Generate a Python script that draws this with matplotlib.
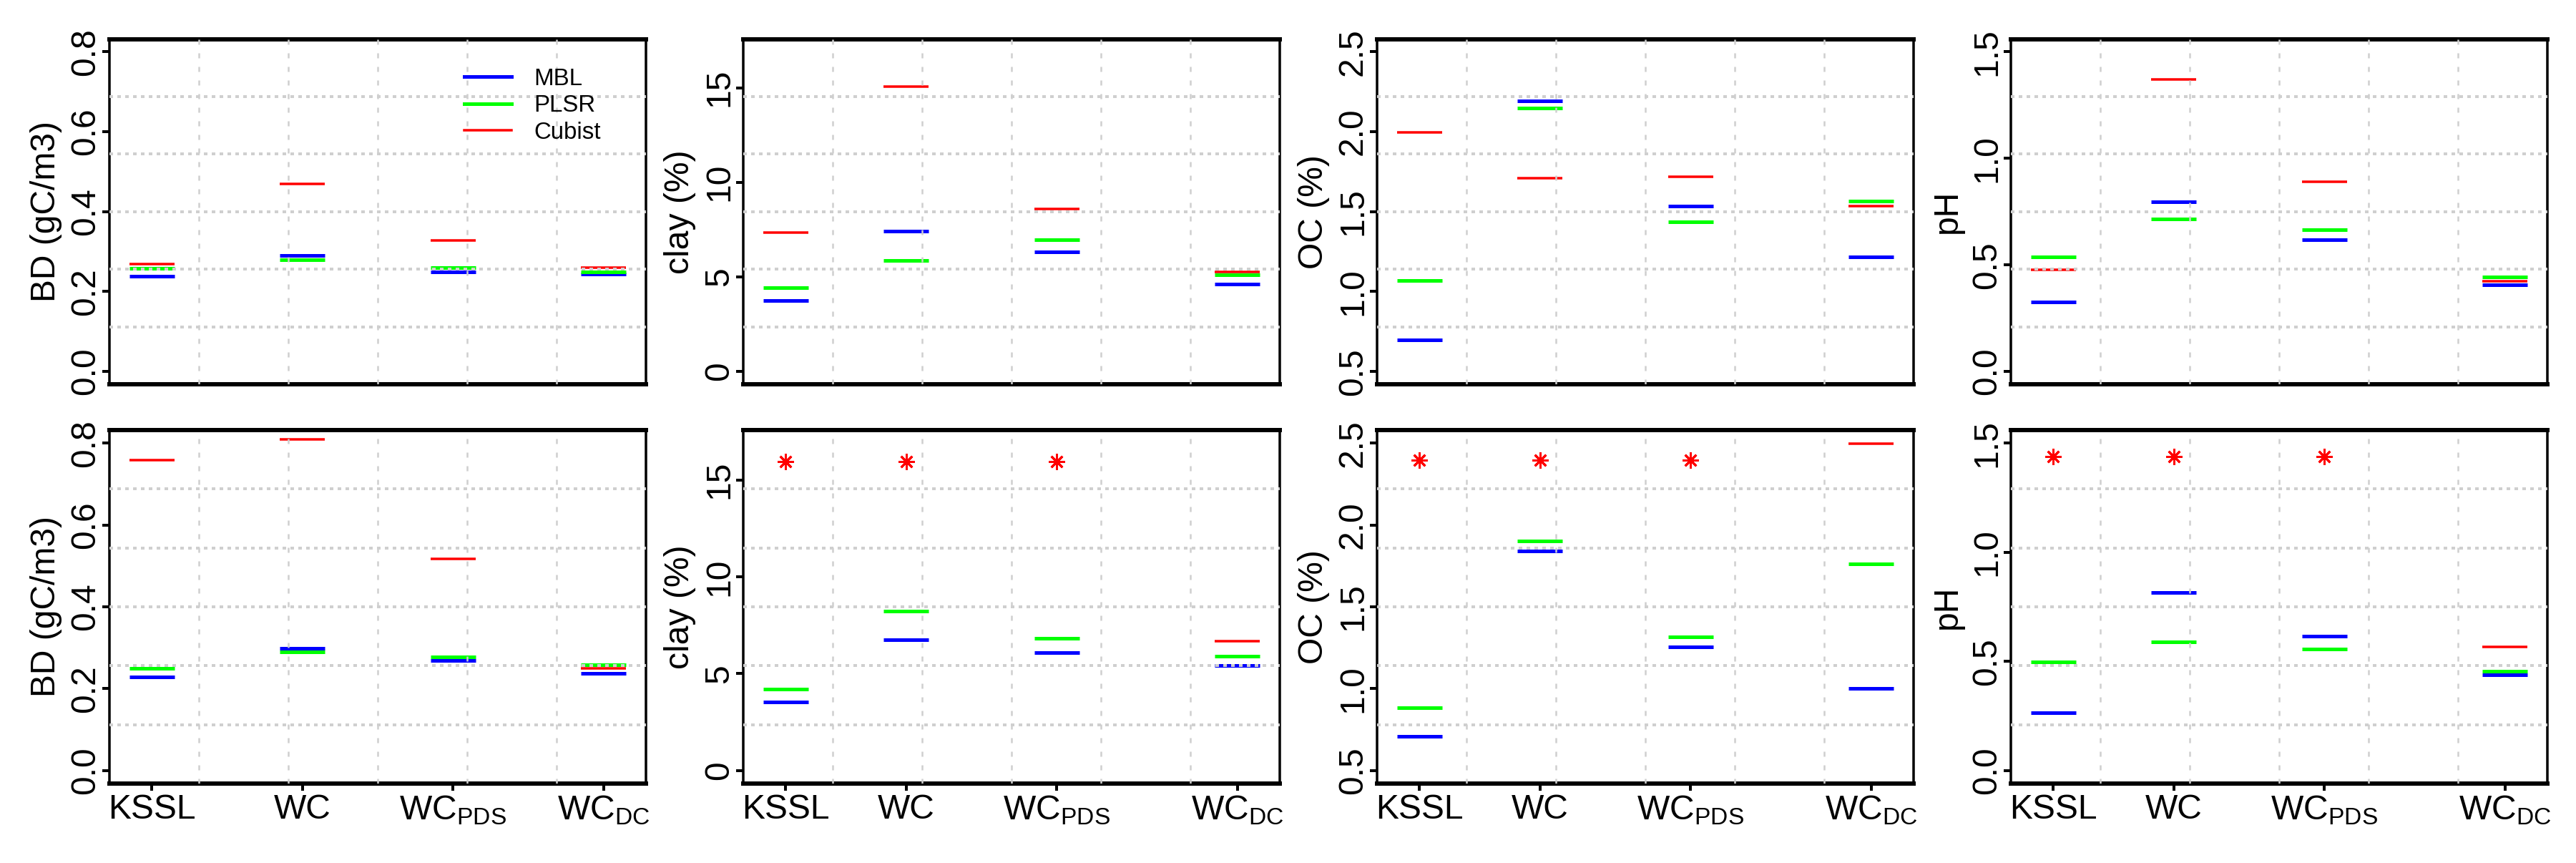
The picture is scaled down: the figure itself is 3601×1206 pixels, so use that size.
import numpy as np
import matplotlib
matplotlib.use('Agg')
import matplotlib.pyplot as plt

plt.rcParams['font.family'] = ['Liberation Sans', 'DejaVu Sans']
plt.rcParams['lines.scale_dashes'] = False

# x positions and labels
groups = ['KSSL', 'WC', r'WC$_\mathregular{PDS}$', r'WC$_\mathregular{DC}$']
pos_bd = [1, 2, 3, 4]
pos_rest = [1, 1.8, 2.8, 4]

# top row
bd_mbl_1 = [0.238, 0.291, 0.249, 0.243]
bd_plsr_1 = [0.258, 0.280, 0.260, 0.249]
bd_cub_1 = [0.268, 0.469, 0.328, 0.260]

clay_mbl_1 = [3.76, 7.43, 6.33, 4.62]
clay_plsr_1 = [4.43, 5.85, 6.95, 5.12]
clay_cub_1 = [7.36, 15.07, 8.58, 5.27]

oc_mbl_1 = [0.697, 2.195, 1.533, 1.219]
oc_plsr_1 = [1.070, 2.149, 1.438, 1.567]
oc_cub_1 = [1.997, 1.709, 1.719, 1.533]

ph_mbl_1 = [0.327, 0.796, 0.617, 0.406]
ph_plsr_1 = [0.537, 0.715, 0.666, 0.445]
ph_cub_1 = [0.477, 1.370, 0.889, 0.425]

# bottom row (nan = Cubist off the chart, shown as asterisk)
bd_mbl_2 = [0.228, 0.298, 0.269, 0.237]
bd_plsr_2 = [0.249, 0.289, 0.277, 0.258]
bd_cub_2 = [0.759, 0.809, 0.517, 0.249]

clay_mbl_2 = [3.54, 6.76, 6.09, 5.42]
clay_plsr_2 = [4.20, 8.23, 6.81, 5.90]
clay_cub_2 = [np.nan, np.nan, np.nan, 6.68]
clay_star = 15.94

oc_mbl_2 = [0.707, 1.839, 1.254, 1.003]
oc_plsr_2 = [0.885, 1.903, 1.315, 1.763]
oc_cub_2 = [np.nan, np.nan, np.nan, 2.497]
oc_star = 2.395

ph_mbl_2 = [0.264, 0.816, 0.617, 0.437]
ph_plsr_2 = [0.496, 0.589, 0.556, 0.455]
ph_cub_2 = [np.nan, np.nan, np.nan, 0.566]
ph_star = 1.439

W, H = 3601, 1206
fig = plt.figure(figsize=(W / 72, H / 72), dpi=72)

lefts = [153, 1039, 1925, 2811]
aw = 750
rows = [(54.5, 537), (601, 1095)]
hw = 0.15


def r_pad(lo, hi):
    d = (hi - lo) * 0.04
    return lo - d, hi + d


def panel(ax, pos, mbl, plsr, cub, ylim, yticks, ylabs, ylabel, bottom, star=None):
    x = np.array(pos, float)
    ax.hlines(mbl, x - hw, x + hw, color='#0000ff', lw=5, zorder=2)
    ax.hlines(plsr, x - hw, x + hw, color='#00ff00', lw=5, zorder=2)
    cub = np.array(cub, float)
    ok = ~np.isnan(cub)
    ax.hlines(cub[ok], x[ok] - hw, x[ok] + hw, color='#ff0000', lw=3.5, zorder=2)
    if star is not None:
        ax.plot(x[~ok], [star] * int((~ok).sum()), ls='none', marker=(8, 2, 0),
                ms=22, mew=3, color='#ff0000', zorder=2)

    xl = r_pad(0.85, 4.15)
    yl = r_pad(*ylim)
    ax.set_xlim(xl)
    ax.set_ylim(yl)

    # grid(6, 6) drawn over the marks
    for gx in np.linspace(xl[0], xl[1], 7)[1:-1]:
        ax.axvline(gx, color='#cfcfcf', lw=2.5, dashes=(7, 12), zorder=3)
    for gy in np.linspace(yl[0], yl[1], 7)[1:-1]:
        ax.axhline(gy, color='#cfcfcf', lw=4, dashes=(5, 6), zorder=3)

    ax.set_yticks(yticks)
    ax.set_yticklabels(ylabs)
    for t in ax.get_yticklabels():
        t.set_rotation(90)
        t.set_va('center')
    ax.tick_params(axis='y', length=10, width=4, labelsize=48, pad=1, direction='out')
    if bottom:
        ax.set_xticks(pos)
        ax.set_xticklabels(groups)
        ax.tick_params(axis='x', length=10, width=4, labelsize=48, pad=4, direction='out')
    else:
        ax.set_xticks([])

    ax.set_ylabel(ylabel, fontsize=48, va='center')
    ax.yaxis.set_label_coords(-0.118, 0.5)

    for s in ['top', 'bottom']:
        ax.spines[s].set_linewidth(6)
    for s in ['left', 'right']:
        ax.spines[s].set_linewidth(3.5)


specs = [
    (pos_bd, (0, 0.8), [0, 0.2, 0.4, 0.6, 0.8], ['0.0', '0.2', '0.4', '0.6', '0.8'], 'BD (gC/m3)',
     (bd_mbl_1, bd_plsr_1, bd_cub_1, None), (bd_mbl_2, bd_plsr_2, bd_cub_2, None)),
    (pos_rest, (0, 16.9), [0, 5, 10, 15], ['0', '5', '10', '15'], 'clay (%)',
     (clay_mbl_1, clay_plsr_1, clay_cub_1, None), (clay_mbl_2, clay_plsr_2, clay_cub_2, clay_star)),
    (pos_rest, (0.5, 2.5), [0.5, 1.0, 1.5, 2.0, 2.5], ['0.5', '1.0', '1.5', '2.0', '2.5'], 'OC (%)',
     (oc_mbl_1, oc_plsr_1, oc_cub_1, None), (oc_mbl_2, oc_plsr_2, oc_cub_2, oc_star)),
    (pos_rest, (0, 1.5), [0, 0.5, 1.0, 1.5], ['0.0', '0.5', '1.0', '1.5'], 'pH',
     (ph_mbl_1, ph_plsr_1, ph_cub_1, None), (ph_mbl_2, ph_plsr_2, ph_cub_2, ph_star)),
]

first = None
for i, (pos, ylim, yt, ytl, ylab, top, bot) in enumerate(specs):
    for r, (y0, y1) in enumerate(rows):
        ax = fig.add_axes([lefts[i] / W, 1 - y1 / H, aw / W, (y1 - y0) / H])
        d = top if r == 0 else bot
        panel(ax, pos, d[0], d[1], d[2], ylim, yt, ytl, ylab, r == 1, d[3])
        if i == 0 and r == 0:
            first = ax

h1, = first.plot([], [], color='#0000ff', lw=5)
h2, = first.plot([], [], color='#00ff00', lw=5)
h3, = first.plot([], [], color='#ff0000', lw=3.5)
first.legend([h1, h2, h3], ['MBL', 'PLSR', 'Cubist'], loc='upper left',
             bbox_to_anchor=(0.661, 0.9165), frameon=False, fontsize=33,
             borderpad=0, handlelength=2.0, handletextpad=0.95, labelspacing=0.2,
             borderaxespad=0)

fig.savefig('out.png', dpi=72)
